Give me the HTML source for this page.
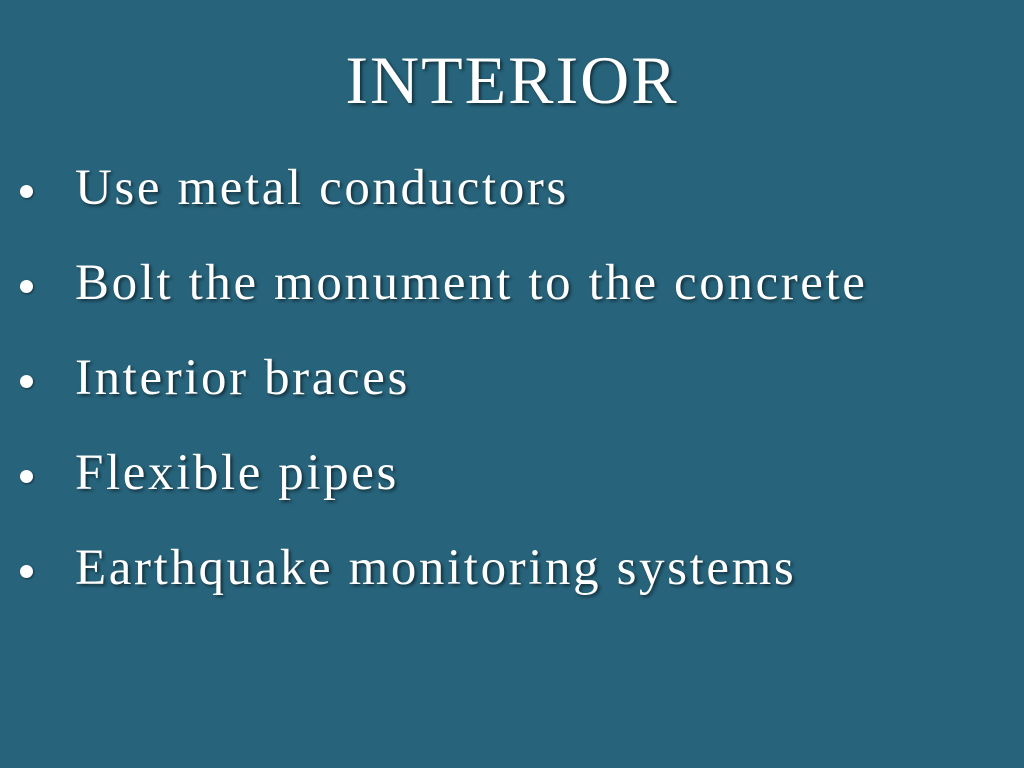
<!DOCTYPE html>
<html><head><style>
body{margin:0;width:1024px;height:768px;background:#27647c;overflow:hidden;position:relative;font-family:"Liberation Serif",serif;color:#fff;}
.t{position:absolute;left:0;width:1024px;text-align:center;top:40px;font-size:68px;line-height:80px;letter-spacing:2px;text-shadow:2px 2px 3px rgba(0,0,0,0.55);}
.b{position:absolute;left:75px;font-size:51px;line-height:60px;letter-spacing:2.6px;white-space:nowrap;text-shadow:2px 2px 3px rgba(0,0,0,0.55);}
.d{position:absolute;left:20px;width:13px;height:13px;border-radius:50%;background:#fff;box-shadow:1px 1px 2px rgba(0,0,0,0.5);}
</style></head><body>
<div class="t">INTERIOR</div>
<div class="d" style="top:185px"></div><div class="b" style="top:158px">Use metal conductors</div>
<div class="d" style="top:280px"></div><div class="b" style="top:253px">Bolt the monument to the concrete</div>
<div class="d" style="top:375px"></div><div class="b" style="top:348px">Interior braces</div>
<div class="d" style="top:470px"></div><div class="b" style="top:443px">Flexible pipes</div>
<div class="d" style="top:565px"></div><div class="b" style="top:538px">Earthquake monitoring systems</div>
</body></html>
